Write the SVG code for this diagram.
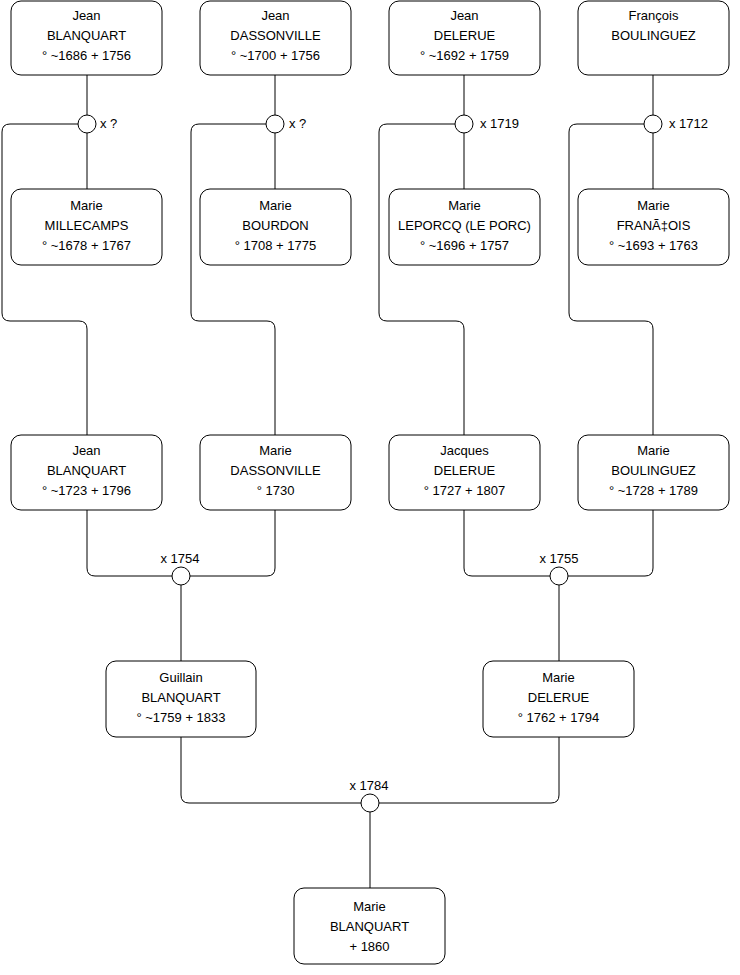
<svg xmlns="http://www.w3.org/2000/svg" width="740" height="975" viewBox="0 0 740 975">
<style>
.box{fill:#fff;stroke:#000;stroke-width:1}
.c{fill:#fff;stroke:#000;stroke-width:1}
.ln{fill:none;stroke:#000;stroke-width:1}
text{font-family:"Liberation Sans",Arial,sans-serif;font-size:13px;fill:#000}
.m{text-anchor:middle}
</style>
<rect width="740" height="975" fill="#fff"/>
<g id="connectors">
<path class="ln" d="M87,75V189"/>
<path class="ln" d="M275,75V189"/>
<path class="ln" d="M464,75V189"/>
<path class="ln" d="M653,75V189"/>
<path class="ln" d="M78,124H10Q2,124 2,132V313Q2,321 10,321H79Q87,321 87,329V435"/>
<path class="ln" d="M266,124H199Q191,124 191,132V313Q191,321 199,321H267Q275,321 275,329V435"/>
<path class="ln" d="M455,124H387Q379,124 379,132V313Q379,321 387,321H456Q464,321 464,329V435"/>
<path class="ln" d="M644,124H577Q569,124 569,132V313Q569,321 577,321H645Q653,321 653,329V435"/>
<path class="ln" d="M87,510V568Q87,576 95,576H267Q275,576 275,568V510"/>
<path class="ln" d="M464,510V568Q464,576 472,576H645Q653,576 653,568V510"/>
<path class="ln" d="M181,585V661"/>
<path class="ln" d="M559,585V661"/>
<path class="ln" d="M181,737V795Q181,803 189,803H551Q559,803 559,795V737"/>
<path class="ln" d="M370,812V888"/>
</g>
<g id="u1"><circle class="c" cx="87" cy="124" r="9"/><text x="100" y="128">x ?</text></g>
<g id="u2"><circle class="c" cx="275" cy="124" r="9"/><text x="289" y="128">x ?</text></g>
<g id="u3"><circle class="c" cx="464" cy="124" r="9"/><text x="480" y="128">x 1719</text></g>
<g id="u4"><circle class="c" cx="653" cy="124" r="9"/><text x="669" y="128">x 1712</text></g>
<g id="u5"><circle class="c" cx="181" cy="576" r="9"/><text class="m" x="180" y="563">x 1754</text></g>
<g id="u6"><circle class="c" cx="559" cy="576" r="9"/><text class="m" x="559" y="563">x 1755</text></g>
<g id="u7"><circle class="c" cx="370" cy="803" r="9"/><text class="m" x="369" y="790">x 1784</text></g>
<g id="p1"><rect class="box" x="11" y="1" width="151" height="74" rx="10"/><text class="m" x="86.5" y="20">Jean</text><text class="m" x="86.5" y="40">BLANQUART</text><text class="m" x="86.5" y="60">° ~1686 + 1756</text></g>
<g id="p2"><rect class="box" x="200" y="1" width="151" height="74" rx="10"/><text class="m" x="275.5" y="20">Jean</text><text class="m" x="275.5" y="40">DASSONVILLE</text><text class="m" x="275.5" y="60">° ~1700 + 1756</text></g>
<g id="p3"><rect class="box" x="389" y="1" width="151" height="74" rx="10"/><text class="m" x="464.5" y="20">Jean</text><text class="m" x="464.5" y="40">DELERUE</text><text class="m" x="464.5" y="60">° ~1692 + 1759</text></g>
<g id="p4"><rect class="box" x="578" y="1" width="151" height="74" rx="10"/><text class="m" x="653.5" y="20">François</text><text class="m" x="653.5" y="40">BOULINGUEZ</text></g>
<g id="p5"><rect class="box" x="11" y="189" width="151" height="76" rx="10"/><text class="m" x="86.5" y="209.5">Marie</text><text class="m" x="86.5" y="229.5">MILLECAMPS</text><text class="m" x="86.5" y="249.5">° ~1678 + 1767</text></g>
<g id="p6"><rect class="box" x="200" y="189" width="151" height="76" rx="10"/><text class="m" x="275.5" y="209.5">Marie</text><text class="m" x="275.5" y="229.5">BOURDON</text><text class="m" x="275.5" y="249.5">° 1708 + 1775</text></g>
<g id="p7"><rect class="box" x="389" y="189" width="151" height="76" rx="10"/><text class="m" x="464.5" y="209.5">Marie</text><text class="m" x="464.5" y="229.5">LEPORCQ (LE PORC)</text><text class="m" x="464.5" y="249.5">° ~1696 + 1757</text></g>
<g id="p8"><rect class="box" x="578" y="189" width="151" height="76" rx="10"/><text class="m" x="653.5" y="209.5">Marie</text><text class="m" x="653.5" y="229.5">FRANÃ‡OIS</text><text class="m" x="653.5" y="249.5">° ~1693 + 1763</text></g>
<g id="p9"><rect class="box" x="11" y="435" width="151" height="75" rx="10"/><text class="m" x="86.5" y="455">Jean</text><text class="m" x="86.5" y="475">BLANQUART</text><text class="m" x="86.5" y="495">° ~1723 + 1796</text></g>
<g id="p10"><rect class="box" x="200" y="435" width="151" height="75" rx="10"/><text class="m" x="275.5" y="455">Marie</text><text class="m" x="275.5" y="475">DASSONVILLE</text><text class="m" x="275.5" y="495">° 1730</text></g>
<g id="p11"><rect class="box" x="389" y="435" width="151" height="75" rx="10"/><text class="m" x="464.5" y="455">Jacques</text><text class="m" x="464.5" y="475">DELERUE</text><text class="m" x="464.5" y="495">° 1727 + 1807</text></g>
<g id="p12"><rect class="box" x="578" y="435" width="151" height="75" rx="10"/><text class="m" x="653.5" y="455">Marie</text><text class="m" x="653.5" y="475">BOULINGUEZ</text><text class="m" x="653.5" y="495">° ~1728 + 1789</text></g>
<g id="p13"><rect class="box" x="106" y="661" width="150" height="76" rx="10"/><text class="m" x="181" y="682">Guillain</text><text class="m" x="181" y="702">BLANQUART</text><text class="m" x="181" y="722">° ~1759 + 1833</text></g>
<g id="p14"><rect class="box" x="483" y="661" width="151" height="76" rx="10"/><text class="m" x="558.5" y="682">Marie</text><text class="m" x="558.5" y="702">DELERUE</text><text class="m" x="558.5" y="722">° 1762 + 1794</text></g>
<g id="p15"><rect class="box" x="294" y="888" width="151" height="76" rx="10"/><text class="m" x="369.5" y="911">Marie</text><text class="m" x="369.5" y="931">BLANQUART</text><text class="m" x="369.5" y="951">+ 1860</text></g>
</svg>
